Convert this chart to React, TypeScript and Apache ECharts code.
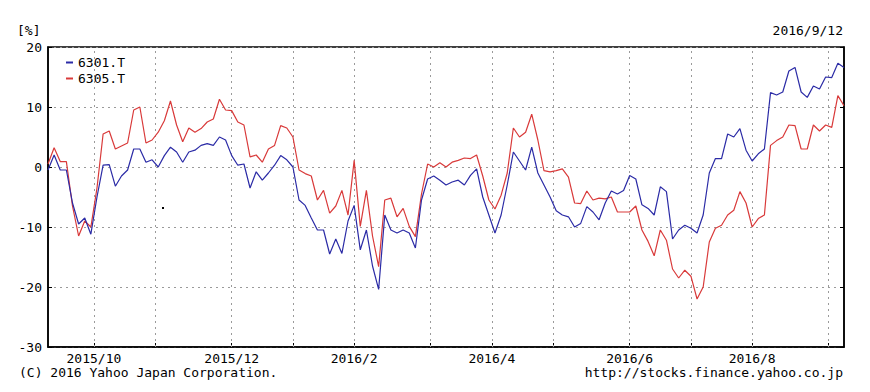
import React, { useEffect, useRef } from "react";
import * as echarts from "echarts";

// Period of the chart (weekday axis, as on the source)
const START_DATE = "2015-09-14";
const END_DATE = "2016-09-12";
const DATE_STAMP = "2016/9/12";

// Series names
const SERIES_NAMES = ["6301.T", "6305.T"];

// Values in %, read every 2 weekdays from START_DATE
const S6301 = [
  -0.5, 2.0, -0.5, -0.5, -6.0, -9.5, -8.5, -11.2, -5.0, 0.3,
  0.4, -3.2, -1.5, -0.5, 3.0, 3.0, 0.8, 1.2, 0.0, 1.9,
  3.3, 2.5, 0.8, 2.5, 2.8, 3.6, 3.9, 3.6, 5.0, 4.5,
  1.9, 0.3, 0.5, -3.5, -0.8, -2.2, -1.0, 0.3, 1.9, 1.2,
  0.0, -5.5, -6.4, -8.5, -10.5, -10.5, -14.5, -12.0, -14.4, -9.0,
  -6.4, -13.8, -10.5, -16.5, -20.4, -8.0, -10.5, -11.0, -10.5, -11.0,
  -13.5, -5.5, -2.0, -1.5, -2.2, -3.0, -2.5, -2.2, -3.0, -1.4,
  -0.3, -5.0, -8.0, -11.0, -8.0, -3.0, 2.5, 1.0, -0.5, 3.3,
  -1.0, -3.0, -5.0, -7.3, -8.0, -8.3, -10.0, -9.4, -6.6, -7.5,
  -8.8, -6.0, -4.0, -4.5, -3.9, -1.4, -2.0, -6.3, -6.9, -8.0,
  -3.3, -4.1, -12.0, -10.5, -9.7, -10.2, -11.0, -8.0, -1.0, 1.4,
  1.4, 5.5, 5.0, 6.4, 2.8, 1.0, 2.2, 3.0, 12.4, 12.0,
  12.5, 16.0, 16.6, 12.5, 11.6, 13.5, 13.0, 15.0, 14.9, 17.3,
  16.6,
];
const S6305 = [
  0.5, 3.2, 0.9, 0.9, -6.5, -11.5, -9.0, -10.0, -3.5, 5.5,
  6.0, 3.0, 3.5, 4.0, 9.5, 10.0, 4.0, 4.5, 5.8, 7.7,
  11.0, 7.0, 4.2, 6.5, 5.8, 6.4, 7.5, 8.0, 11.3, 9.5,
  9.4, 7.5, 7.0, 1.7, 2.0, 0.8, 3.0, 3.6, 6.9, 6.5,
  5.0, -0.5, -1.1, -1.5, -5.5, -3.9, -7.7, -6.5, -3.9, -8.0,
  1.1, -9.9, -3.9, -11.5, -16.6, -5.5, -5.2, -8.3, -6.9, -9.9,
  -11.6, -4.5, 0.5, 0.0, 0.7, 0.0, 0.8, 1.1, 1.5, 1.4,
  2.0, -1.5, -5.5, -7.0, -4.7, -1.0, 6.5, 5.0, 5.8, 8.8,
  4.5, -0.6, -0.8, -0.6, -0.3, -1.7, -6.0, -6.1, -4.0, -5.5,
  -5.2, -5.3, -5.0, -7.5, -7.5, -7.5, -6.5, -10.5, -12.4, -14.8,
  -10.5, -12.2, -17.0, -18.5, -17.2, -18.2, -22.0, -20.0, -12.5, -10.2,
  -9.7, -8.0, -7.2, -4.1, -6.0, -10.0, -8.6, -8.0, 3.6, 4.4,
  5.0, 7.0, 6.9, 3.0, 3.0, 7.0, 6.0, 7.0, 6.6, 11.9,
  10.2,
];
const SAMPLE_STEP = 2;

// Y axis
const Y_MIN = -30;
const Y_MAX = 20;
const Y_STEP = 10;

const COLORS = ["#2b2ba6", "#d93a3a"];
const GRID_COLOR = "#9a9a9a";
const FONT = "'DejaVu Sans Mono', 'Liberation Mono', monospace";

function weekdays(start: string, end: string): Date[] {
  const out: Date[] = [];
  const d = new Date(start + "T00:00:00");
  const e = new Date(end + "T00:00:00");
  while (d <= e) {
    const wd = d.getDay();
    if (wd !== 0 && wd !== 6) out.push(new Date(d));
    d.setDate(d.getDate() + 1);
  }
  return out;
}

export default function App() {
  const ref = useRef<HTMLDivElement>(null);
  useEffect(() => {
    if (!ref.current) return;
    const chart = echarts.init(ref.current, null, { renderer: "svg" });
    const days = weekdays(START_DATE, END_DATE);
    const cats = days.map(
      (d) => `${d.getFullYear()}/${d.getMonth() + 1}/${d.getDate()}`
    );
    // month grid: first Monday of each month
    const gridList: number[] = [];
    const labelIdx = new Set<number>();
    days.forEach((d, i) => {
      if (d.getDay() === 1 && d.getDate() <= 7) {
        gridList.push(i);
        if ((d.getMonth() + 1) % 2 === 0) labelIdx.add(i);
      }
    });
    const gridIdx = new Set<number>(gridList);
    const toData = (arr: number[]) => arr.map((v, i) => [i * SAMPLE_STEP, v]);

    chart.setOption({
      animation: false,
      backgroundColor: "#ffffff",
      textStyle: { fontFamily: FONT },
      grid: {
        left: 48,
        right: 26,
        top: 47,
        bottom: 45,
        show: true,
        borderColor: "#000",
        borderWidth: 1.5,
      },
      legend: {
        data: SERIES_NAMES,
        orient: "vertical",
        left: 61,
        top: 51,
        icon: "rect",
        itemWidth: 7,
        itemHeight: 2,
        itemGap: 3,
        textStyle: { fontFamily: FONT, fontSize: 13, color: "#000", lineHeight: 13 },
      },
      xAxis: {
        type: "category",
        data: cats,
        boundaryGap: false,
        axisLine: { onZero: false, lineStyle: { color: "#000", width: 1.5 } },
        axisTick: {
          show: true,
          inside: true,
          length: 4,
          customValues: gridList,
          interval: (i: number) => gridIdx.has(i),
          lineStyle: { color: "#000" },
        },
        axisLabel: {
          interval: (i: number) => labelIdx.has(i),
          formatter: (_v: string, i: number) => {
            const d = days[i];
            return `${d.getFullYear()}/${d.getMonth() + 1}`;
          },
          fontFamily: FONT,
          fontSize: 13,
          color: "#000",
          margin: 5,
        },
        splitLine: { show: false },
      },
      yAxis: [
        {
          type: "value",
          min: Y_MIN,
          max: Y_MAX,
          interval: Y_STEP,
          axisLine: { show: true, lineStyle: { color: "#000", width: 1.5 } },
          axisTick: { show: true, inside: true, length: 4, lineStyle: { color: "#000" } },
          axisLabel: { fontFamily: FONT, fontSize: 13, color: "#000", margin: 6 },
          splitLine: { lineStyle: { color: GRID_COLOR, type: [2, 4], width: 1 } },
        },
        {
          type: "value",
          position: "right",
          min: Y_MIN,
          max: Y_MAX,
          interval: Y_STEP,
          axisLine: { show: true, lineStyle: { color: "#000", width: 1.5 } },
          axisTick: { show: true, inside: true, length: 4, lineStyle: { color: "#000" } },
          axisLabel: { show: false },
          splitLine: { show: false },
        },
      ],
      series: [
        {
          name: SERIES_NAMES[0],
          type: "line",
          data: toData(S6301),
          showSymbol: false,
          symbol: "none",
          lineStyle: { color: COLORS[0], width: 1.2 },
          itemStyle: { color: COLORS[0] },
          z: 3,
        },
        {
          name: SERIES_NAMES[1],
          type: "line",
          data: toData(S6305),
          showSymbol: false,
          symbol: "none",
          lineStyle: { color: COLORS[1], width: 1.2 },
          itemStyle: { color: COLORS[1] },
          z: 2,
          markLine: {
            silent: true,
            symbol: "none",
            label: { show: false },
            z: 1,
            lineStyle: { color: GRID_COLOR, type: [2, 4], width: 1 },
            emphasis: { disabled: true },
            data: gridList.map((i) => ({ xAxis: cats[i] })),
          },
        },
      ],
      graphic: [
        {
          type: "text",
          left: 17,
          top: 24,
          style: { text: "[%]", font: `13px ${FONT}`, fill: "#000" },
        },
        {
          type: "text",
          right: 27,
          top: 24,
          style: { text: DATE_STAMP, font: `13px ${FONT}`, fill: "#000" },
        },
        {
          type: "text",
          left: 19,
          top: 366,
          style: { text: "(C) 2016 Yahoo Japan Corporation.", font: `13px ${FONT}`, fill: "#000" },
        },
        {
          type: "text",
          right: 27,
          top: 366,
          style: { text: "http://stocks.finance.yahoo.co.jp", font: `13px ${FONT}`, fill: "#000" },
        },
        {
          type: "rect",
          shape: { x: 162, y: 207, width: 2, height: 2 },
          style: { fill: "#000" },
        },
      ],
    });
    return () => chart.dispose();
  }, []);
  return (
    <div
      ref={ref}
      style={{ position: "fixed", left: 0, top: 0, width: 870, height: 392, background: "#fff" }}
    />
  );
}
